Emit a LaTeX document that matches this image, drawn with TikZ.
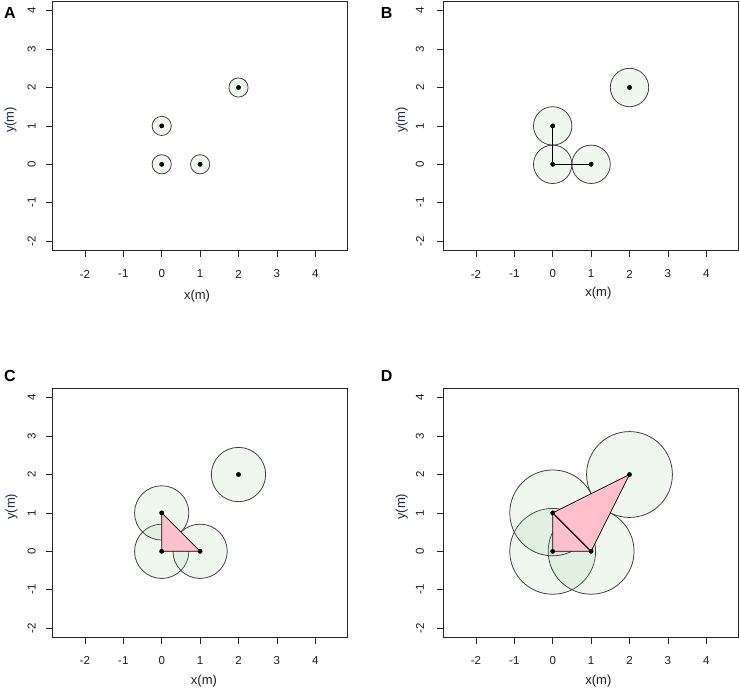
\documentclass[tikz,border=0pt]{standalone}
\usepackage{fontspec}
\setmainfont{Liberation Sans}
\definecolor{discfill}{rgb}{0.6,0.8,0.6}
\definecolor{disclin}{HTML}{3A3A3A}
\definecolor{simpl}{HTML}{FFC0CB}
\definecolor{txt}{HTML}{1E1E1E}
\definecolor{ylab}{HTML}{1C2A48}
\tikzset{
  frame/.style={draw=black!85, line width=0.9pt},
  tickmark/.style={draw=black!85, line width=0.8pt},
  ticklab/.style={inner sep=0pt, text=txt, font=\fontsize{11.5}{13}\selectfont},
  axlab/.style={inner sep=0pt, text=txt, font=\fontsize{13}{15}\selectfont},
  yaxlab/.style={inner sep=0pt, text=ylab, font=\fontsize{13}{15}\selectfont, rotate=90},
  panlab/.style={inner sep=0pt, text=black, font=\fontsize{16}{18}\selectfont\bfseries},
  pt/.style={circle, fill=black, inner sep=0pt, minimum size=4.6pt},
  disc/.style={draw=disclin, line width=0.75pt, fill=discfill, fill opacity=0.15},
  simplex/.style={fill=simpl, draw=black, line width=0.75pt, line join=round},
  edge/.style={draw=black, line width=0.8pt},
}
% #1 prefix, #2 y-label x (data), #3 x tick label y, #4 x(m) x, #5 x(m) y
\newcommand\plotaxes[5]{%
  \draw[frame] (-2.84,-2.24) rectangle (4.84,4.24);
  \foreach \t in {-2,...,4}{%
    \draw[tickmark] (\t,-2.24) -- ++(0,-7pt);
    \node[ticklab, name=#1xt\t] at (\t,#3) {\t};
    \draw[tickmark] (-2.84,\t) -- ++(-7pt,0);
    \node[ticklab, rotate=90, name=#1yt\t] at (#2,\t) {\t};
  }
  \node[axlab, name=#1xlab] at (#4,#5) {x(m)};
}
\newcommand\putpoints[1]{%
  \node[pt] (#1a) at (0,0) {};
  \node[pt] (#1b) at (1,0) {};
  \node[pt] (#1c) at (0,1) {};
  \node[pt] (#1d) at (2,2) {};
}
\newcommand\putdiscs[2]{%
  \foreach \q in {a,b,c,d}{\draw[disc] (#1\q.center) circle[radius=#2];}
}
\begin{document}
\begin{tikzpicture}[x=1pt,y=-1pt]
\useasboundingbox (0,0) rectangle (740,689);
\fill[white] (0,0) rectangle (740,689);
% panel labels and y-labels (image coordinates)
\node[panlab] (labA) at (10,12.5) {A};
\node[panlab] (labB) at (386.7,12.5) {B};
\node[panlab] (labC) at (10,375.5) {C};
\node[panlab] (labD) at (386.7,375.5) {D};
\node[yaxlab] (ylA) at (10.5,120) {y(m)};
\node[yaxlab] (ylB) at (401.7,120) {y(m)};
\node[yaxlab] (ylC) at (11.5,506.7) {y(m)};
\node[yaxlab] (ylD) at (401.7,506.7) {y(m)};

% ---------- Panel A ----------
\begin{scope}[xshift=161.7pt, yshift=-164.3pt, x=38.4pt, y=38.4pt]
  \plotaxes{A}{-3.385}{-2.857}{0.92}{-3.43}
  \putpoints{A}
  \putdiscs{A}{0.25}
  \foreach \q in {a,b,c,d}{\node[pt] at (A\q.center) {};}
\end{scope}

% ---------- Panel B ----------
\begin{scope}[xshift=552.7pt, yshift=-164.3pt, x=38.4pt, y=38.4pt]
  \plotaxes{B}{-3.456}{-2.857}{1.19}{-3.344}
  \putpoints{B}
  \putdiscs{B}{0.5}
  \draw[edge] (Ba.center) -- (Bb.center);
  \draw[edge] (Ba.center) -- (Bc.center);
  \foreach \q in {a,b,c,d}{\node[pt] at (B\q.center) {};}
\end{scope}

% ---------- Panel C ----------
\begin{scope}[xshift=161.7pt, yshift=-551.3pt, x=38.4pt, y=38.4pt]
  \plotaxes{C}{-3.385}{-2.85}{1.10}{-3.37}
  \putpoints{C}
  \putdiscs{C}{0.7071}
  \draw[simplex] (Ca.center) -- (Cb.center) -- (Cc.center) -- cycle;
  \foreach \q in {a,b,c,d}{\node[pt] at (C\q.center) {};}
\end{scope}

% ---------- Panel D ----------
\begin{scope}[xshift=552.7pt, yshift=-551.3pt, x=38.4pt, y=38.4pt]
  \plotaxes{D}{-3.456}{-2.85}{1.19}{-3.37}
  \putpoints{D}
  \putdiscs{D}{1.118}
  \draw[simplex] (Da.center) -- (Db.center) -- (Dc.center) -- cycle;
  \draw[simplex] (Dc.center) -- (Db.center) -- (Dd.center) -- cycle;
  \draw[edge] (Db.center) -- (Dc.center);
  \foreach \q in {a,b,c,d}{\node[pt] at (D\q.center) {};}
\end{scope}
\end{tikzpicture}
\end{document}
